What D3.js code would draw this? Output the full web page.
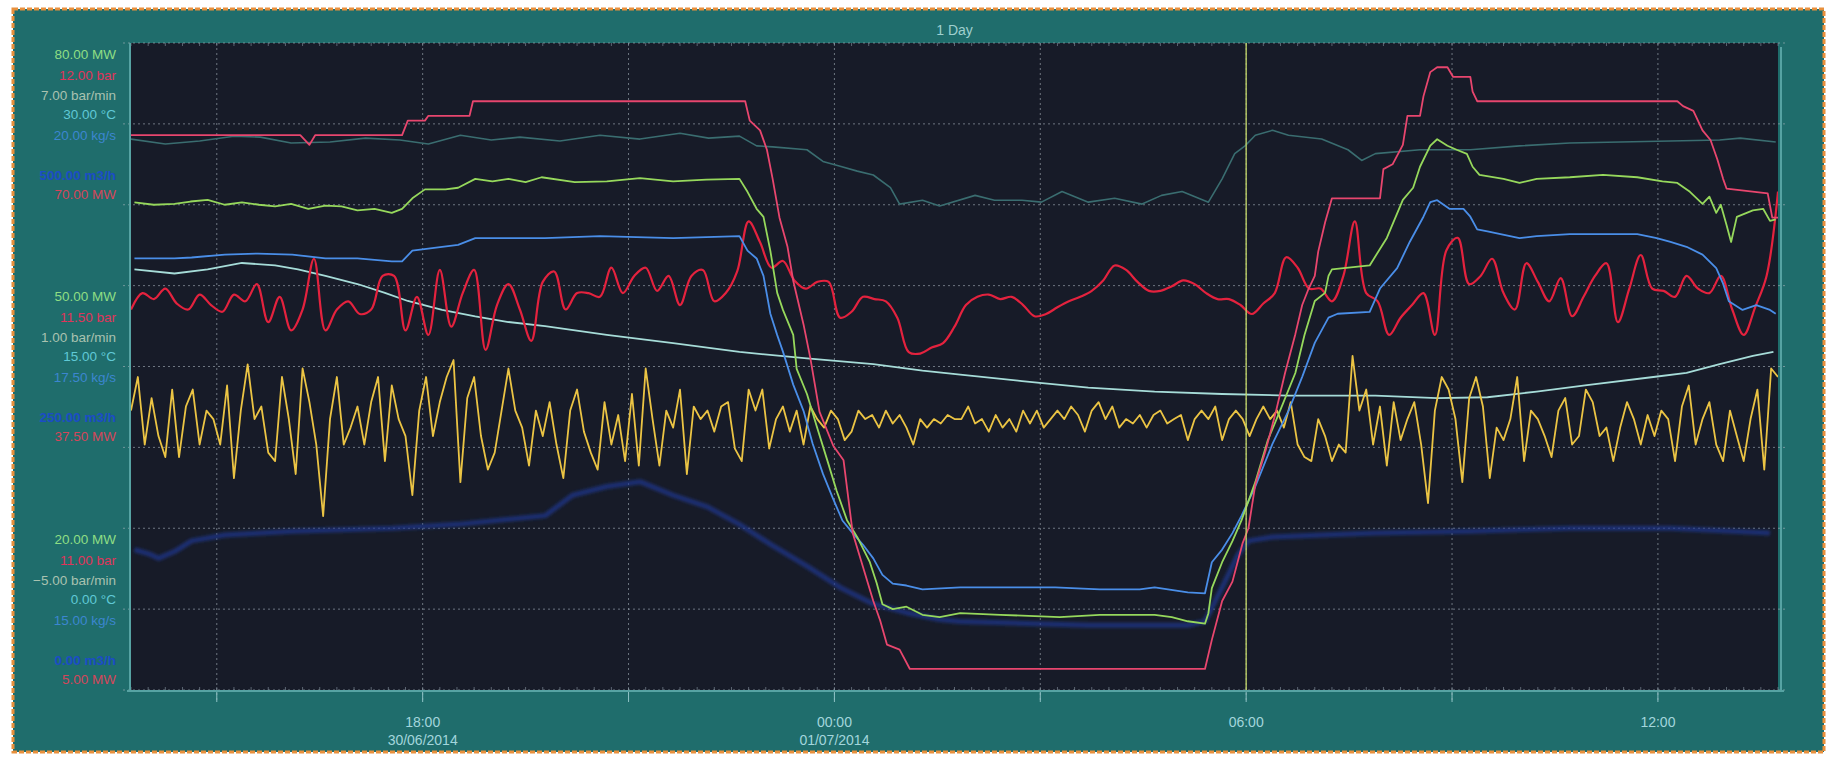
<!DOCTYPE html>
<html>
<head>
<meta charset="utf-8">
<script src="https://cdnjs.cloudflare.com/ajax/libs/d3/7.8.5/d3.min.js"></script>
<style>
	body { margin: 0; background: #fff; }
	svg text { font-family: "Liberation Sans", Arial, sans-serif; }
</style>
</head>
<body>
<svg id="trend" width="1833" height="762"></svg>
<script>

	// trend window 30/06/2014 13:45 -> 01/07/2014 13:45, all times are minutes from start
	var startTime = new Date(2014, 5, 30, 13, 45);
	var spanMinutes = 1440;
	var title = "1 Day";

	var tickLabels = [["18:00", "30/06/2014"], ["00:00", "01/07/2014"], ["06:00", ""], ["12:00", ""]];
	var cursorMinute = 975; // 06:00

	// axis label values: top, middle, bottom group
	var mwTicks = [80, 50, 20];
	var barTicks = [12, 11.5, 11];
	var rateTicks = [7, 1, -5];
	var tempTicks = [30, 15, 0];
	var flowTicks = [20, 17.5, 15];
	var volTicks = [500, 250, 0];
	var mw2Ticks = [70, 37.5, 5];

	// [minute, bar]
	var pressureSteps = [
		[0, 11.81], [148, 11.81], [156, 11.79], [161, 11.81], [237, 11.81], [242, 11.84], [257, 11.84], [260, 11.85],
		[296, 11.85], [299, 11.88], [537, 11.88], [541, 11.84], [550, 11.82], [556, 11.78], [561, 11.72], [567, 11.64],
		[574, 11.58], [579, 11.51], [588, 11.42], [594, 11.35], [602, 11.24], [614, 11.17], [623, 11.14], [631, 10.99],
		[640, 10.92], [649, 10.85], [655, 10.81], [661, 10.76], [672, 10.75], [681, 10.71], [692, 10.71], [939, 10.71],
		[945, 10.77], [954, 10.85], [963, 10.89], [972, 10.97], [977, 11.00], [983, 11.09], [992, 11.16], [1001, 11.24],
		[1009, 11.32], [1018, 11.40], [1024, 11.46], [1029, 11.49], [1035, 11.52], [1038, 11.57], [1044, 11.63], [1050, 11.68],
		[1092, 11.68], [1095, 11.74], [1103, 11.75], [1112, 11.79], [1116, 11.85], [1127, 11.85], [1130, 11.89], [1136, 11.94],
		[1142, 11.95], [1151, 11.95], [1156, 11.93], [1171, 11.93], [1173, 11.90], [1177, 11.88], [1352, 11.88], [1357, 11.87],
		[1366, 11.86], [1374, 11.82], [1381, 11.80], [1387, 11.76], [1392, 11.72], [1395, 11.70], [1431, 11.69], [1435, 11.64],
		[1440, 11.64]
	];

	// [minute, kg/s]
	var steamFlow = [
		[0, 19.01], [30, 18.96], [60, 18.99], [90, 19.04], [113, 19.03], [140, 18.97], [174, 18.98], [205, 19.02], [235, 19.0],
		[260, 18.96], [288, 19.05], [315, 19.0], [340, 19.03], [375, 18.99], [410, 19.05], [445, 19.01], [480, 19.07],
		[505, 19.02], [532, 19.04], [547, 18.94], [561, 18.93], [591, 18.9], [605, 18.78], [620, 18.73], [635, 18.68],
		[649, 18.64], [664, 18.51], [672, 18.34], [692, 18.38], [707, 18.32], [738, 18.43], [755, 18.38], [779, 18.38],
		[796, 18.36], [814, 18.47], [837, 18.36], [860, 18.4], [884, 18.34], [901, 18.43], [919, 18.47], [942, 18.36],
		[954, 18.6], [965, 18.86], [974, 18.94], [983, 19.05], [998, 19.1], [1012, 19.05], [1041, 19.01], [1064, 18.9],
		[1076, 18.79], [1088, 18.86], [1127, 18.9], [1171, 18.9], [1214, 18.94], [1258, 18.97], [1302, 18.98], [1346, 18.99],
		[1389, 19.0], [1407, 19.02], [1438, 18.98]
	];

	// [minute, MW]
	var unitPower = [
		[3, 60.3], [20, 60.0], [38, 60.1], [52, 60.4], [67, 60.6], [82, 60.0], [97, 60.3], [112, 60.0], [126, 59.8],
		[140, 60.1], [155, 59.5], [170, 59.9], [184, 59.8], [198, 59.3], [213, 59.5], [228, 59.0],
		[237, 59.5], [246, 60.8], [257, 61.9], [275, 61.9], [286, 62.1], [301, 63.2], [316, 62.9], [330, 63.2], [345, 62.8],
		[359, 63.4], [388, 62.8], [416, 62.9], [445, 63.3], [474, 62.9], [503, 63.1], [532, 63.2], [539, 61.6], [547, 59.5],
		[553, 58.5], [559, 54.3], [565, 49.1], [570, 47.0],
		[579, 43.9], [582, 39.7], [591, 36.6], [600, 32.4], [609, 28.3], [617, 24.6], [626, 21.0], [635, 18.9], [646, 15.8],
		[652, 13.2], [657, 10.6], [666, 10.0], [678, 10.3], [692, 9.3], [707, 9.0], [725, 9.5], [760, 9.3], [812, 9.0],
		[847, 9.3], [895, 9.3], [910, 9.0], [924, 8.5], [939, 8.2], [942, 9.5], [945, 12.6], [954, 15.8], [963, 18.4],
		[971, 21.0], [983, 25.7], [994, 30.9], [1006, 35.0], [1018, 39.2], [1026, 43.9], [1035, 48.1], [1044, 49.1],
		[1047, 51.2], [1050, 52.0], [1083, 52.5], [1098, 55.9], [1112, 60.6], [1121, 62.1], [1127, 64.7], [1136, 67.3],
		[1142, 68.1], [1151, 67.3], [1159, 66.8], [1168, 66.3], [1173, 64.7], [1179, 63.7], [1200, 63.2], [1214, 62.7],
		[1229, 63.2], [1258, 63.4], [1287, 63.7], [1317, 63.4], [1339, 62.9], [1352, 62.7], [1363, 61.6], [1374, 60.1],
		[1380, 61.0], [1386, 59.0], [1390, 60.0], [1395, 57.5], [1399, 55.4], [1404, 58.5], [1418, 59.3], [1427, 59.5],
		[1433, 58.0], [1438, 58.2]
	];

	// [minute, kg/s]
	var feedFlow = [
		[3, 17.78], [38, 17.78], [53, 17.79], [82, 17.82], [111, 17.83], [141, 17.82], [170, 17.78], [198, 17.78],
		[228, 17.75], [237, 17.75], [246, 17.86], [272, 17.9], [286, 17.92], [301, 17.99], [330, 17.99], [362, 17.99],
		[410, 18.01], [474, 17.99], [532, 18.01], [539, 17.86], [547, 17.78], [553, 17.6], [559, 17.21], [565, 16.99],
		[570, 16.82], [579, 16.48], [588, 16.21], [596, 15.87], [605, 15.56], [614, 15.3], [622, 15.08], [631, 14.95],
		[640, 14.83], [649, 14.69], [657, 14.52], [666, 14.43], [678, 14.41], [692, 14.37], [725, 14.39], [808, 14.39],
		[847, 14.37], [882, 14.37], [895, 14.39], [924, 14.34], [939, 14.33], [945, 14.65], [954, 14.78], [963, 14.95],
		[971, 15.13], [983, 15.43], [998, 15.87], [1012, 16.21], [1024, 16.56], [1035, 16.91], [1047, 17.17], [1055, 17.21],
		[1083, 17.23], [1092, 17.47], [1107, 17.68], [1118, 17.95], [1130, 18.21], [1136, 18.36], [1142, 18.38],
		[1153, 18.29], [1165, 18.29], [1171, 18.21], [1177, 18.08], [1186, 18.06], [1214, 17.99], [1229, 18.01],
		[1258, 18.03], [1287, 18.03], [1317, 18.03], [1334, 17.99], [1346, 17.95], [1360, 17.9], [1374, 17.82],
		[1386, 17.68], [1392, 17.52], [1397, 17.34], [1409, 17.25], [1421, 17.3], [1433, 17.25], [1438, 17.21]
	];

	// [minute, °C]
	var tempTrend = [
		[3, 16.0], [38, 15.75], [67, 16.0], [97, 16.4], [126, 16.25], [146, 16.0], [170, 15.6], [198, 15.1], [222, 14.55],
		[242, 14.05], [272, 13.5], [301, 13.1], [330, 12.75], [362, 12.5], [416, 11.95], [474, 11.45], [532, 10.9],
		[591, 10.5], [649, 10.15], [692, 9.75], [725, 9.5], [779, 9.1], [837, 8.7], [895, 8.45], [954, 8.3], [1012, 8.2],
		[1088, 8.2], [1142, 8.05], [1186, 8.1], [1229, 8.45], [1273, 8.85], [1331, 9.35], [1360, 9.6], [1389, 10.15],
		[1418, 10.65], [1436, 10.9]
	];

	// [minute, m3/h]
	var waterFlow = [
		[3, -22], [17, -27], [24, -31], [38, -24], [53, -13], [82, -7], [141, -3], [228, 0], [286, 4], [362, 13],
		[386, 34], [416, 43], [445, 48], [474, 34], [504, 22], [532, 4], [561, -18], [591, -39], [620, -61], [649, -78],
		[678, -87], [707, -94], [725, -96], [837, -100], [924, -100], [939, -96], [954, -61], [968, -27], [977, -13],
		[998, -9], [1041, -7], [1088, -5], [1171, -3], [1258, 0], [1346, 0], [1433, -5]
	];

	// MW, logged every 10 minutes
	var powerSwing = [
		34.3, 36.5, 35.7, 37.1, 35.1, 34.3, 36.3, 34.9, 34.0, 36.3,
		35.4, 37.7, 32.6, 36.0, 31.5, 34.3, 41.1, 31.5, 34.3, 35.4,
		33.7, 34.3, 38.8, 38.8, 31.5, 36.0, 30.9, 39.6, 32.0, 36.5,
		39.6, 28.9, 34.9, 37.7, 34.3, 30.1, 38.0, 39.4, 34.3, 36.5,
		36.5, 36.0, 39.9, 36.5, 38.8, 39.9, 36.8, 38.8, 34.9, 38.8,
		39.6, 35.4, 36.5, 39.4, 46.1, 43.3, 39.9, 40.8, 38.2, 37.1,
		38.0, 38.0, 33.2, 34.0, 36.0, 35.7, 35.4, 33.2, 28.6, 28.4,
		29.2, 29.8, 32.0, 34.9, 36.0, 36.3, 35.7, 36.0, 34.9, 33.4,
		33.7, 34.6, 35.4, 36.0, 36.8, 38.2, 40.2, 39.6, 38.0, 36.8,
		36.8, 37.4, 38.2, 37.7, 36.5, 35.7, 35.7, 34.9, 33.7, 35.1,
		36.5, 41.3, 39.9, 37.1, 37.1, 35.4, 38.8, 46.1, 36.5, 35.4,
		30.9, 33.2, 34.9, 36.5, 30.9, 42.2, 43.9, 37.7, 38.8, 41.1,
		36.5, 34.3, 40.5, 38.0, 35.4, 38.5, 33.4, 36.0, 38.8, 40.5,
		32.6, 37.1, 41.6, 37.1, 36.8, 36.0, 38.8, 37.1, 36.5, 38.8,
		34.3, 30.9, 34.6, 38.8, 50.1
	];
	var powerSwingStep = 10;

	// bar/min, logged every 6 minutes
	var pressureRate = [
		-2.09, -1.26, -2.93, -1.78, -2.72, -3.24, -1.57, -3.24, -1.99, -1.57,
		-2.93, -2.09, -2.30, -2.93, -1.47, -3.76, -2.09, -0.95, -2.30, -1.99,
		-3.13, -3.34, -1.26, -2.30, -3.66, -1.05, -1.88, -2.93, -4.70, -2.30,
		-1.26, -2.93, -2.51, -1.99, -2.93, -1.88, -1.26, -3.34, -1.47, -2.30,
		-2.72, -4.18, -2.09, -1.26, -2.72, -1.88, -1.26, -0.84, -3.86, -1.78,
		-1.26, -2.72, -3.55, -3.13, -2.09, -1.05, -2.09, -2.51, -3.45, -2.09,
		-2.72,
		-1.88, -2.93, -3.76, -2.09, -1.57, -2.61, -3.13, -3.55, -1.88, -2.93,
		-2.20, -3.34, -1.68, -3.45, -1.05, -2.30, -3.45, -2.09, -2.51, -1.57,
		-3.66, -1.99, -2.30, -2.09, -2.61, -1.99, -1.88, -3.03, -3.34, -1.57,
		-2.09, -1.57, -3.03, -2.30, -1.99, -2.61, -2.09, -2.93, -1.99, -2.30,
		-2.51, -2.09, -2.30, -2.82, -2.61, -2.09, -2.30, -2.20, -2.51, -2.09,
		-2.41, -2.20, -2.51, -2.93, -2.30, -2.51, -2.30, -2.41, -2.20, -2.30,
		-2.30, -1.99, -2.41, -2.30, -2.61, -2.20, -2.51, -2.30, -2.61, -2.09,
		-2.41, -2.09, -2.51, -2.30, -2.09, -2.30, -1.99, -2.20, -2.61, -2.09,
		-1.88, -2.30, -1.99, -2.51, -2.30, -2.41, -2.20, -2.51, -2.20, -2.09,
		-2.41, -2.30, -2.20, -2.82, -2.30, -2.09, -2.30, -1.99, -2.82, -2.30,
		-2.09, -2.30, -2.72, -2.30, -1.99, -2.30, -2.09, -2.51, -1.88, -2.93,
		-3.24, -3.34, -2.30, -2.72, -3.34, -2.93, -3.13, -0.74, -2.09, -1.57,
		-2.93, -1.99, -3.45, -1.88, -2.82, -2.30, -1.88, -2.93, -4.38, -2.09,
		-1.26, -1.57, -2.30, -3.86, -1.78, -1.26, -1.99, -3.76, -2.51, -2.82,
		-2.30, -1.26, -3.34, -2.09, -2.30, -2.72, -3.24, -2.09, -1.78, -2.93,
		-2.72, -1.57, -1.88, -2.72, -2.51, -3.34, -2.51, -1.88, -2.30, -2.93,
		-2.20, -2.72, -2.09, -2.30, -3.34, -1.99, -1.47, -2.93, -2.30, -1.88,
		-2.93, -3.34, -2.09, -2.72, -3.34, -2.30, -1.57, -3.55, -1.05, -1.26
	];
	var pressureRateStep = 6;


	var svg = d3.select("svg#trend"),
		plot = {left: 131, right: 1778, top: 43, bottom: 690},
		gridStep = (plot.bottom - plot.top) / 8;

	function at(m) { return new Date(+startTime + m * 60000); }

	var x = d3.scaleTime()
		.domain([startTime, at(spanMinutes)])
		.range([plot.left, plot.right]);

	// each axis: top label at the plot top, bottom label six grid rows down
	function axisScale(ticks) {
		return d3.scaleLinear().domain([ticks[2], ticks[0]]).range([plot.top + 6 * gridStep, plot.top]);
	}

	var yMW = axisScale(mwTicks),
		yBar = axisScale(barTicks),
		yRate = axisScale(rateTicks),
		yTemp = axisScale(tempTicks),
		yFlow = axisScale(flowTicks),
		yVol = axisScale(volTicks),
		yMW2 = axisScale(mw2Ticks);

	// panel
	svg.append("rect")
		.attr("x", 13).attr("y", 9).attr("width", 1811).attr("height", 743)
		.attr("fill", "#1f6d6c")
		.attr("stroke", "#e8903c").attr("stroke-width", 3)
		.attr("stroke-dasharray", "5,2");

	svg.append("text")
		.attr("x", (plot.left + plot.right) / 2).attr("y", 30)
		.attr("text-anchor", "middle").attr("dy", "0.35em")
		.style("font-size", "14px").attr("fill", "#9fd0cf")
		.text(title);

	svg.append("rect")
		.attr("x", plot.left).attr("y", plot.top)
		.attr("width", plot.right - plot.left).attr("height", plot.bottom - plot.top)
		.attr("fill", "#171b28");

	svg.append("defs").append("clipPath").attr("id", "clip")
		.append("rect")
		.attr("x", plot.left).attr("y", plot.top)
		.attr("width", plot.right - plot.left).attr("height", plot.bottom - plot.top);

	svg.select("defs").append("filter").attr("id", "soft")
		.append("feGaussianBlur").attr("stdDeviation", 1.8);

	// grid (10 MW per row)
	var gridRows = d3.range(0, 81, 10).map(function(v) { return yMW(v); });
	var hours3 = x.ticks(d3.timeHour.every(3));

	svg.append("g").selectAll("line").data(gridRows).enter().append("line")
		.attr("x1", plot.left - 8).attr("x2", plot.right + 10)
		.attr("y1", function(d) { return d; }).attr("y2", function(d) { return d; })
		.attr("stroke", "#a9b4bd").attr("stroke-opacity", 0.6)
		.attr("stroke-dasharray", "2,3");

	svg.append("g").selectAll("line").data(hours3).enter().append("line")
		.attr("x1", function(d) { return x(d); }).attr("x2", function(d) { return x(d); })
		.attr("y1", plot.top).attr("y2", plot.bottom + 10)
		.attr("stroke", "#a9b4bd").attr("stroke-opacity", 0.6)
		.attr("stroke-dasharray", "2,3");

	// small ruler ticks along the top and bottom edges
	var minorTicks = x.ticks(d3.timeMinute.every(15));
	svg.append("g").selectAll("line").data(minorTicks).enter().append("line")
		.attr("x1", function(d) { return x(d); }).attr("x2", function(d) { return x(d); })
		.attr("y1", plot.top).attr("y2", plot.top + 3)
		.attr("stroke", "#8a98a4").attr("stroke-opacity", 0.6);
	svg.append("g").selectAll("line").data(minorTicks).enter().append("line")
		.attr("x1", function(d) { return x(d); }).attr("x2", function(d) { return x(d); })
		.attr("y1", plot.bottom - 3).attr("y2", plot.bottom)
		.attr("stroke", "#8a98a4").attr("stroke-opacity", 0.6);

	// frame
	svg.append("line")
		.attr("x1", plot.left - 1).attr("x2", plot.left - 1)
		.attr("y1", plot.top).attr("y2", plot.bottom + 2)
		.attr("stroke", "#56a3a3").attr("stroke-width", 2);
	svg.append("line")
		.attr("x1", plot.left - 4).attr("x2", plot.right + 6)
		.attr("y1", plot.bottom + 1).attr("y2", plot.bottom + 1)
		.attr("stroke", "#56a3a3").attr("stroke-width", 2);
	svg.append("line")
		.attr("x1", plot.right + 3).attr("x2", plot.right + 3)
		.attr("y1", plot.top + 4).attr("y2", plot.bottom + 2)
		.attr("stroke", "#56a3a3").attr("stroke-width", 2);

	var g = svg.append("g").attr("clip-path", "url(#clip)");

	function drawPairs(data, yScale, color, width, curve) {
		var line = d3.line()
			.curve(curve || d3.curveLinear)
			.x(function(d) { return x(at(d[0])); })
			.y(function(d) { return yScale(d[1]); });
		return g.append("path")
			.datum(data)
			.attr("d", line)
			.attr("fill", "none")
			.attr("stroke", color)
			.attr("stroke-width", width)
			.attr("stroke-linejoin", "round");
	}

	function sampled(values, step) {
		return values.map(function(v, i) { return [i * step, v]; });
	}

	drawPairs(waterFlow, yVol, "#1e3892", 5)
		.attr("filter", "url(#soft)")
		.attr("stroke-opacity", 0.7);
	drawPairs(steamFlow, yFlow, "#3a6d70", 1.6);
	drawPairs(tempTrend, yTemp, "#a6dcd8", 1.8);
	drawPairs(sampled(pressureRate, pressureRateStep), yRate, "#ebc444", 1.8);
	drawPairs(sampled(powerSwing, powerSwingStep), yMW2, "#e4223e", 2.2, d3.curveCatmullRom.alpha(0.5));
	drawPairs(feedFlow, yFlow, "#4a8ee8", 1.8);
	drawPairs(unitPower, yMW, "#96d85c", 1.8);
	drawPairs(pressureSteps, yBar, "#e8466e", 1.8);

	// cursor
	svg.append("line")
		.attr("x1", x(at(cursorMinute))).attr("x2", x(at(cursorMinute)))
		.attr("y1", plot.top).attr("y2", plot.bottom)
		.attr("stroke", "#c5d86a").attr("stroke-width", 1.3);

	// left axis labels
	var fmt = d3.format(".2f");
	var axes = [
		{scale: yMW, ticks: mwTicks, unit: "MW", color: "#8ede84", dy: 11},
		{scale: yBar, ticks: barTicks, unit: "bar", color: "#e0345a", dy: 32},
		{scale: yRate, ticks: rateTicks, unit: "bar/min", color: "#a9c2b0", dy: 52},
		{scale: yTemp, ticks: tempTicks, unit: "°C", color: "#5fc9d6", dy: 71},
		{scale: yFlow, ticks: flowTicks, unit: "kg/s", color: "#3c86d0", dy: 92},
		{scale: yVol, ticks: volTicks, unit: "m3/h", color: "#1b4cc6", dy: 132, bold: true},
		{scale: yMW2, ticks: mw2Ticks, unit: "MW", color: "#d4465a", dy: 151}
	];

	axes.forEach(function(a) {
		svg.append("g").selectAll("text").data(a.ticks).enter().append("text")
			.attr("x", 116)
			.attr("y", function(d) { return a.scale(d) + a.dy; })
			.attr("dy", "0.35em")
			.attr("text-anchor", "end")
			.style("font-size", "13.5px")
			.style("font-weight", a.bold ? "bold" : "normal")
			.attr("fill", a.color)
			.text(function(d) { return fmt(d) + " " + a.unit; });
	});

	// time axis
	svg.append("g").selectAll("line").data(hours3).enter().append("line")
		.attr("x1", function(d) { return x(d); }).attr("x2", function(d) { return x(d); })
		.attr("y1", plot.bottom + 2).attr("y2", plot.bottom + 12)
		.attr("stroke", "#8fc3c6");

	var hours6 = x.ticks(d3.timeHour.every(6));
	var lab = svg.append("g").selectAll("g").data(hours6).enter().append("g")
		.attr("transform", function(d) { return "translate(" + x(d) + ",0)"; });
	lab.append("text")
		.attr("y", 722).attr("dy", "0.35em").attr("text-anchor", "middle")
		.style("font-size", "14px").attr("fill", "#a3d6dc")
		.text(function(d, i) { return tickLabels[i][0]; });
	lab.append("text")
		.attr("y", 740).attr("dy", "0.35em").attr("text-anchor", "middle")
		.style("font-size", "14px").attr("fill", "#a3d6dc")
		.text(function(d, i) { return tickLabels[i][1]; });

</script>
</body>
</html>
